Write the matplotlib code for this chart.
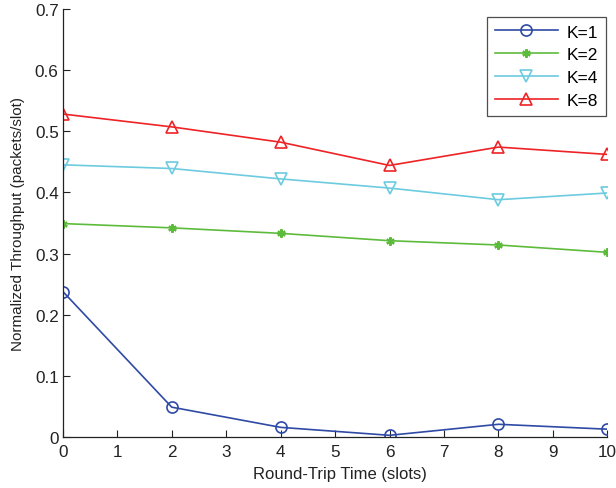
import matplotlib
matplotlib.use("Agg")
import matplotlib.pyplot as plt

plt.rcParams['font.family'] = ['Liberation Sans', 'DejaVu Sans']

rtt = [0, 2, 4, 6, 8, 10]
k1 = [0.238, 0.049, 0.016, 0.003, 0.021, 0.013]
k2 = [0.349, 0.342, 0.333, 0.321, 0.314, 0.302]
k4 = [0.445, 0.439, 0.422, 0.407, 0.388, 0.399]
k8 = [0.528, 0.507, 0.482, 0.444, 0.474, 0.462]
labels = ['K=1', 'K=2', 'K=4', 'K=8']

fig = plt.figure(figsize=(6.16, 4.89), dpi=100)
ax = fig.add_axes([0.102, 0.104, 0.884, 0.876])

ax.plot(rtt, k1, color='#2f4aa4', marker='o', mfc='none', ms=8, mew=1.2, lw=1.2, label=labels[0])
ax.plot(rtt, k2, color='#5dbb3c', marker=(6, 2, 0), ms=6, mew=1.6, lw=1.2, label=labels[1])
ax.plot(rtt, k4, color='#6ccbdf', marker='v', mfc='none', ms=9, mew=1.2, lw=1.2, label=labels[2])
ax.plot(rtt, k8, color='#ee2326', marker='^', mfc='none', ms=9, mew=1.2, lw=1.2, label=labels[3])

ax.set_xlim(0, 10)
ax.set_ylim(0, 0.7)
ax.set_xticks(range(0, 11))
ax.set_yticks([0, 0.1, 0.2, 0.3, 0.4, 0.5, 0.6, 0.7])
ax.set_yticklabels(['0', '0.1', '0.2', '0.3', '0.4', '0.5', '0.6', '0.7'])
ax.tick_params(direction='in', length=5, width=0.8, labelsize=12.3, colors='#222222', pad=3)
ax.tick_params(axis='x', pad=5)
for s in ['top', 'right']:
    ax.spines[s].set_visible(False)
for s in ['left', 'bottom']:
    ax.spines[s].set_color('#222222')
    ax.spines[s].set_linewidth(0.9)

ax.set_xlabel('Round-Trip Time (slots)', fontsize=12, color='#222222')
ax.xaxis.set_label_coords(0.509, -0.068)
ax.set_ylabel('Normalized Throughput (packets/slot)', fontsize=11, color='#222222', labelpad=7)

leg = ax.legend(loc='upper right', bbox_to_anchor=(1.003, 0.99), fontsize=12.5,
                frameon=True, fancybox=False, edgecolor='#222222', handlelength=3.6,
                borderpad=0.45, labelspacing=0.45, handletextpad=0.5, borderaxespad=0.2)
leg.get_frame().set_linewidth(0.9)

fig.savefig('out.png', dpi=100)
